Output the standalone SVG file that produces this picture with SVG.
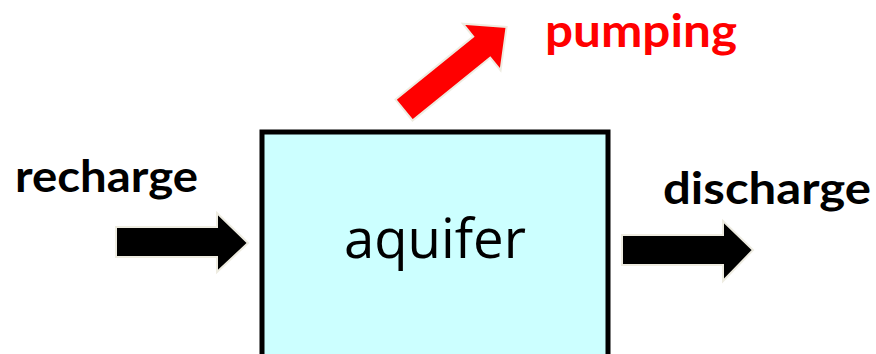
<svg xmlns="http://www.w3.org/2000/svg" width="876" height="354" viewBox="0 0 876 354">
<style>
.arrow{stroke:#EEECE1;stroke-width:2;stroke-linejoin:miter}
.lbl{font-family:Lato,"Open Sans","Liberation Sans",sans-serif;font-weight:bold}
</style>
<rect width="876" height="354" fill="#ffffff"/>
<g id="aquifer">
<rect x="262" y="132" width="346" height="240" fill="#CCFFFF" stroke="#000000" stroke-width="5"/>
<text x="435" y="258" text-anchor="middle" font-family="'Open Sans','Liberation Sans',sans-serif" font-size="55" textLength="182" lengthAdjust="spacingAndGlyphs" fill="#000000">aquifer</text>
</g>
<g id="recharge">
<text class="lbl" x="15" y="192" font-size="44" textLength="183" lengthAdjust="spacingAndGlyphs" fill="#000000">recharge</text>
</g>
<g id="discharge">
<text class="lbl" x="663" y="204" font-size="44" textLength="208" lengthAdjust="spacingAndGlyphs" fill="#000000">discharge</text>
</g>
<g id="pumping">
<text class="lbl" x="545" y="47" font-size="46" textLength="192" lengthAdjust="spacingAndGlyphs" fill="#FF0000">pumping</text>
</g>
<g id="connectors">
<polygon class="arrow" fill="#000000" points="116,227 217,227 217,213 248,243 217,272 217,257 116,257"/>
<polygon class="arrow" fill="#000000" points="622,235 723,235 723,221 753,250 723,281 723,265 622,265"/>
<polygon class="arrow" fill="#FF0000" transform="translate(404,110) rotate(-39)" points="0,-13.5 100,-13.5 100,-30 132,0 100,30 100,13.5 0,13.5"/>
</g>
</svg>
